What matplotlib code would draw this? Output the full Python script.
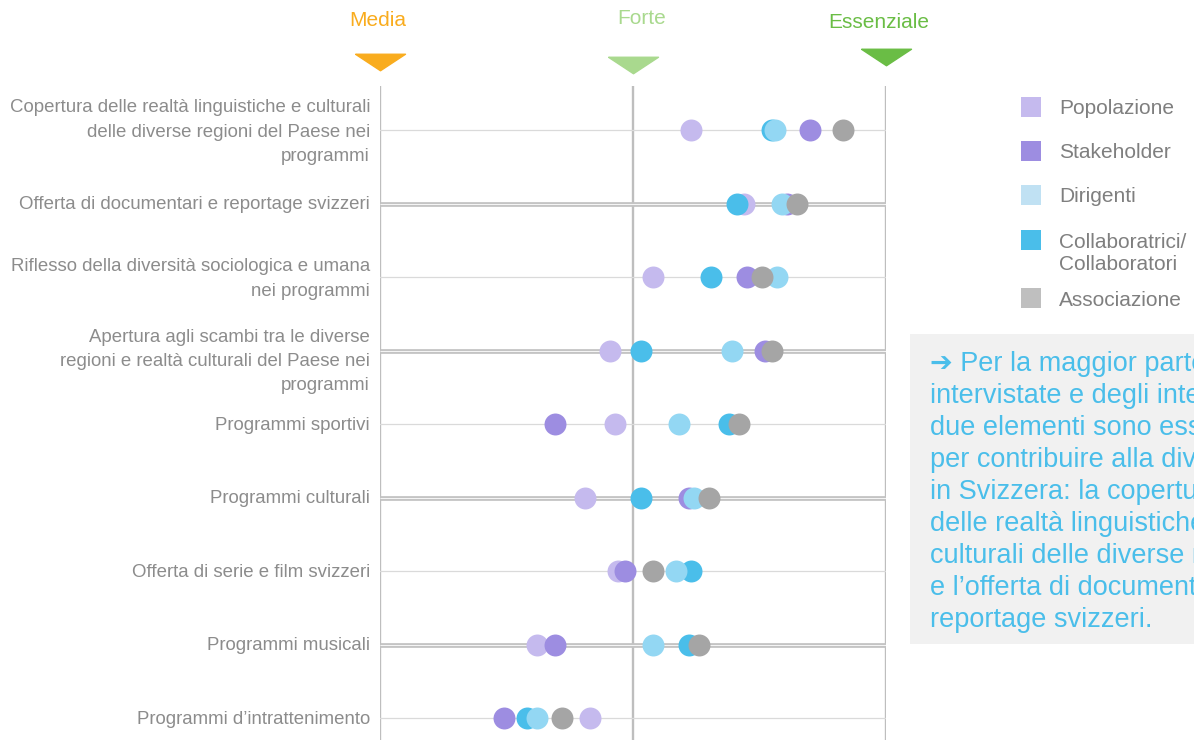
import matplotlib.pyplot as plt
import matplotlib.transforms as mtransforms
from matplotlib.patches import Rectangle
import numpy as np

plt.rcParams['font.family'] = ['Liberation Sans', 'DejaVu Sans']

# --- DATA ---------------------------------- #
items = [
    "Copertura delle realtà linguistiche e culturali\ndelle diverse regioni del Paese nei\nprogrammi",
    "Offerta di documentari e reportage svizzeri",
    "Riflesso della diversità sociologica e umana\nnei programmi",
    "Apertura agli scambi tra le diverse\nregioni e realtà culturali del Paese nei\nprogrammi",
    "Programmi sportivi",
    "Programmi culturali",
    "Offerta di serie e film svizzeri",
    "Programmi musicali",
    "Programmi d’intrattenimento",
]
# scale: 2 = Media, 3 = Forte, 4 = Essenziale
popolazione   = [3.23, 3.44, 3.08, 2.91, 2.93, 2.81, 2.94, 2.62, 2.83]
stakeholder   = [3.70, 3.61, 3.45, 3.52, 2.69, 3.22, 2.97, 2.69, 2.49]
dirigenti     = [3.56, 3.59, 3.57, 3.39, 3.18, 3.24, 3.17, 3.08, 2.62]
collaboratori = [3.55, 3.41, 3.31, 3.03, 3.38, 3.03, 3.23, 3.22, 2.58]
associazione  = [3.83, 3.65, 3.51, 3.55, 3.42, 3.30, 3.08, 3.26, 2.72]

scale_values = [2, 3, 4]
scale_labels = ["Media", "Forte", "Essenziale"]

note_lines = [
    "➔ Per la maggior parte delle persone",
    "intervistate e degli interlocutori, questi",
    "due elementi sono essenziali",
    "per contribuire alla diversità",
    "in Svizzera: la copertura",
    "delle realtà linguistiche e",
    "culturali delle diverse regioni",
    "e l’offerta di documentari e",
    "reportage svizzeri.",
]
# ------------------------------------------- #

series = [
    ("Popolazione", popolazione, "#C5BAEE", "#C5BAEE"),
    ("Stakeholder", stakeholder, "#9D8DE1", "#9D8DE1"),
    ("Collaboratrici/\nCollaboratori", collaboratori, "#4ABEEA", "#4ABEEA"),
    ("Dirigenti", dirigenti, "#93D7F3", "#C0E1F3"),
    ("Associazione", associazione, "#A5A5A5", "#BFBFBF"),
]
legend_order = [0, 1, 3, 2, 4]
scale_colors = ["#F9AC1E", "#A9D98E", "#6ABD45"]

W, H = 1194, 740
fig = plt.figure(figsize=(W / 100, H / 100), dpi=100)
ax = fig.add_axes([380 / W, 0, 506 / W, 654 / H])
ax.set_xlim(2, 4)
rows = np.arange(len(items))
ax.set_ylim(8.299, -0.599)
ax.axis('off')

# grid
for x in scale_values:
    ax.axvline(x, color="#BEBEBE", lw=1.7, zorder=1)
for i in rows:
    if i % 2 == 0:
        ax.plot([2, 4], [i, i], color="#DADADA", lw=0.9, zorder=1)
    else:
        ax.plot([2, 4], [i, i], color="#C2C2C2", lw=3.4, zorder=1, solid_capstyle='butt')
        ax.plot([2, 4], [i, i], color="#F4F4F4", lw=0.8, zorder=1, solid_capstyle='butt')

# dots
for k, (name, vals, col, _) in enumerate(series):
    ax.scatter(vals, rows, s=250, color=col, linewidths=0, zorder=3 + k, clip_on=False)

# row labels (small vertical nudges in pixels)
label_dy = [-2, -1, -2, -11, -1, -1, -1, -1, -1]
for i, lab in enumerate(items):
    ax.annotate(lab, xy=(2, i), xytext=(-10, label_dy[i]), textcoords='offset pixels',
                ha='right', va='center', fontsize=13.4, color="#8C8C8C",
                linespacing=1.55, annotation_clip=False)

# scale headers
blend = mtransforms.blended_transform_factory(ax.transData, fig.transFigure)
tri = [(-1, 0.33), (1, 0.33), (0, -0.33), (-1, 0.33)]
tri_y = [62, 64.5, 56.5]
lab_dx = [-2, 9, -7]
lab_y = [21, 18, 23]
for x, lab, col, ty, dx, ly in zip(scale_values, scale_labels, scale_colors, tri_y, lab_dx, lab_y):
    ax.plot([x], [1 - ty / H], marker=tri, markersize=36, color=col, lw=0,
            transform=blend, clip_on=False)
    ax.annotate(lab, xy=(x, 1 - ly / H), xycoords=blend, xytext=(dx, 0),
                textcoords='offset pixels', ha='center', va='center',
                fontsize=15, color=col, annotation_clip=False)

# legend
leg_y = [107, 151, 195, 240, 298]
for j, idx in enumerate(legend_order):
    name, _, _, lcol = series[idx]
    yc = leg_y[j]
    fig.add_artist(Rectangle((1021 / W, 1 - (yc + 10) / H), 20 / W, 20 / H,
                             transform=fig.transFigure, color=lcol, lw=0))
    for m, line in enumerate(name.split("\n")):
        fig.text(1059 / W, 1 - (yc + 2 + 22 * m) / H, line, ha='left', va='center',
                 fontsize=15, color="#7F7F7F")

# note box
fig.add_artist(Rectangle((910 / W, 1 - 644 / H), 300 / W, 310 / H,
                         transform=fig.transFigure, color="#F1F1F1", lw=0, zorder=0))
for m, line in enumerate(note_lines):
    fig.text(930 / W, 1 - (364 + 32 * m) / H, line, ha='left', va='center',
             fontsize=19.5, color="#4ABEEA")

fig.savefig("out.png", dpi=100)
